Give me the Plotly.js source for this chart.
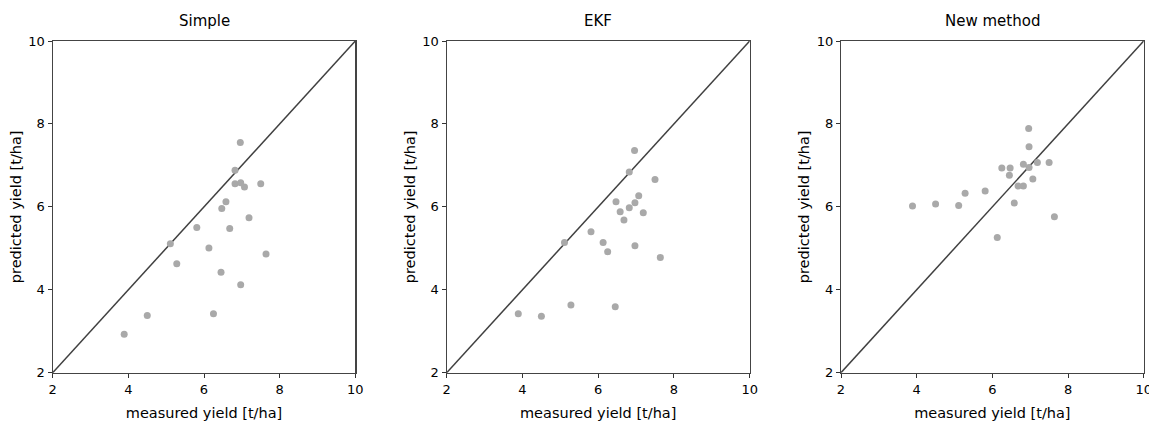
<!DOCTYPE html>
<html>
<head>
<meta charset="utf-8">
<script src="https://cdn.plot.ly/plotly-3.0.1.min.js"></script>
<style>html,body{margin:0;padding:0;background:#fff;}#chart{width:1149px;height:421px;}</style>
</head>
<body>
<div id="chart"></div>
<script>
const panelTitles = ["Simple", "EKF", "New method"];
const measured = [3.89, 4.50, 5.11, 5.28, 5.81, 6.13, 6.25, 6.45, 6.47, 6.58, 6.68, 6.82, 6.82, 6.96, 6.97, 6.97, 7.07, 7.19, 7.50, 7.64];
const predSimple = [2.93, 3.38, 5.11, 4.63, 5.50, 5.01, 3.42, 4.42, 5.96, 6.12, 5.48, 6.88, 6.56, 7.55, 6.58, 4.12, 6.48, 5.74, 6.56, 4.86];
const predEKF = [3.42, 3.36, 5.14, 3.63, 5.40, 5.14, 4.92, 3.59, 6.12, 5.88, 5.68, 6.84, 5.98, 7.36, 6.10, 5.06, 6.27, 5.86, 6.66, 4.78];
const predNew = [6.02, 6.07, 6.03, 6.33, 6.38, 5.26, 6.94, 6.76, 6.94, 6.09, 6.50, 7.03, 6.50, 7.89, 7.45, 6.95, 6.67, 7.07, 7.07, 5.76];
const identityLine = [2, 10];
const tickVals = [2, 4, 6, 8, 10];
const xLabel = "measured yield [t/ha]";
const yLabel = "predicted yield [t/ha]";

const series = [predSimple, predEKF, predNew];
const W = 1149, H = 421;
const xDomains = [[52.7, 355.3], [446.7, 749.7], [841, 1143.7]].map(d => [d[0] / W, d[1] / W]);
const yDomain = [1 - 372.7 / H, 1 - 41 / H];
const fam = "DejaVu Sans, sans-serif";

const traces = [];
const layout = {
  width: W, height: H,
  margin: {l: 0, r: 0, t: 0, b: 0},
  paper_bgcolor: "#fff", plot_bgcolor: "#fff",
  showlegend: false,
  font: {family: fam, size: 13, color: "#000"},
  annotations: []
};

series.forEach((ys, i) => {
  const sfx = i === 0 ? "" : String(i + 1);
  traces.push({
    x: identityLine, y: identityLine, mode: "lines",
    line: {color: "#404040", width: 1.5},
    xaxis: "x" + sfx, yaxis: "y" + sfx, hoverinfo: "skip"
  });
  traces.push({
    x: measured, y: ys, mode: "markers",
    marker: {color: "#a9a9a9", size: 7, line: {width: 0}},
    xaxis: "x" + sfx, yaxis: "y" + sfx
  });
  const ax = {
    range: [2, 10], tickvals: tickVals, ticks: "outside", ticklen: 4, tickwidth: 1,
    tickcolor: "#333", showline: true, linecolor: "#444", linewidth: 1.2, mirror: true,
    showgrid: false, zeroline: false, ticklabeloverflow: "allow",
    tickfont: {family: fam, size: 13, color: "#000"}
  };
  layout["xaxis" + sfx] = Object.assign({}, ax, {
    domain: xDomains[i], anchor: "y" + sfx,
    title: {text: xLabel, font: {family: fam, size: 14.5, color: "#000"}, standoff: 13}
  });
  layout["yaxis" + sfx] = Object.assign({}, ax, {
    domain: yDomain, anchor: "x" + sfx,
    title: {text: yLabel, font: {family: fam, size: 14.5, color: "#000"}, standoff: 3}
  });
  layout.annotations.push({
    text: panelTitles[i], showarrow: false, xref: "paper", yref: "paper",
    x: (xDomains[i][0] + xDomains[i][1]) / 2, y: 1 - 21 / H, xanchor: "center", yanchor: "middle",
    font: {family: fam, size: 15, color: "#000"}
  });
});

Plotly.newPlot("chart", traces, layout, {displayModeBar: false, staticPlot: true});
</script>
</body>
</html>
